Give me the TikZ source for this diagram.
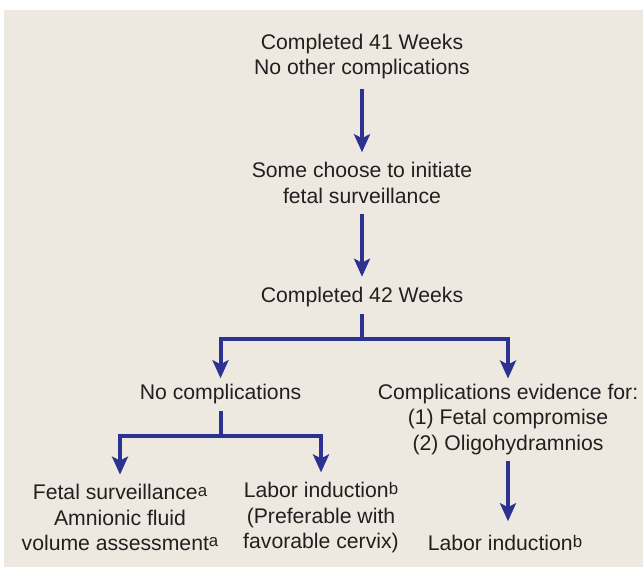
\documentclass[tikz,border=0pt]{standalone}
\usepackage{fontspec}
\setmainfont{Liberation Sans}
\usetikzlibrary{arrows.meta}
\definecolor{pagebg}{RGB}{237,233,224}
\definecolor{flowblue}{RGB}{43,50,145}
\definecolor{inkdark}{RGB}{35,31,32}
\newcommand{\notemark}[1]{\raisebox{1.7pt}{\fontsize{8.4}{8}\selectfont #1}}

\begin{document}
\begin{tikzpicture}[x=0.5pt, y=-0.5pt,
      txt/.style={align=center, inner sep=0pt, text=inkdark,
                  font=\fontsize{10.6}{12.6}\selectfont},
      link/.style={line width=2pt, draw=flowblue},
      arr/.style={link, -{Stealth[length=9pt, width=8pt, inset=2pt]},
                  shorten <=5pt, shorten >=5pt},
      twoarr/.style={arr, {Stealth[length=9pt, width=8pt, inset=2pt]}-{Stealth[length=9pt, width=8pt, inset=2pt]}}
    ]
    \useasboundingbox (0,0) rectangle (643,570);
    \fill[pagebg] (4,10) rectangle (643,567);
    \node[txt] (w41) at (362,56.5)
      {Completed 41 Weeks\\ No other complications};
    \node[txt] (surv) at (362,183)
      {Some choose to initiate\\ fetal surveillance};
    \node[txt] (w42) at (362,297) {Completed 42 Weeks};
    \node[txt] (nocomp) at (220.5,394) {No complications};
    \node[txt] (comp) at (508,419.5)
      {Complications evidence for:\\ (1) Fetal compromise\\ (2) Oligohydramnios};
    \node[txt] (fsurv) at (120,517.5)
      {Fetal surveillance\notemark{a}\\ Amnionic fluid\\
       volume assessment\notemark{a}};
    \node[txt] (induce) at (321,517.5)
      {Labor induction\notemark{b}\\ (Preferable with\\ favorable cervix)};
    \node[txt] (induce2) at (505,543) {Labor induction\notemark{b}};
    \coordinate (split) at (362,339);
    \coordinate (split2) at (220.5,436);
    \draw[arr] (w41) -- (surv);
    \draw[arr] (surv) -- (w42);
    % branches
    \draw[link, shorten <=3.25pt] (w42.south) -- (split);
    \draw[twoarr, shorten <=2.75pt, shorten >=2.75pt]
      (nocomp.north) |- (split) -| (comp.north);
    \draw[link, shorten <=3.25pt] (nocomp.south) -- (split2);
    \draw[twoarr, shorten <=4.75pt, shorten >=4.75pt]
      (fsurv.north) |- (split2) -| (induce.north);
    \draw[arr, shorten <=3pt, shorten >=6.75pt]
      (comp.south) -- (comp.south |- induce2.north);
  \end{tikzpicture}
\end{document}
